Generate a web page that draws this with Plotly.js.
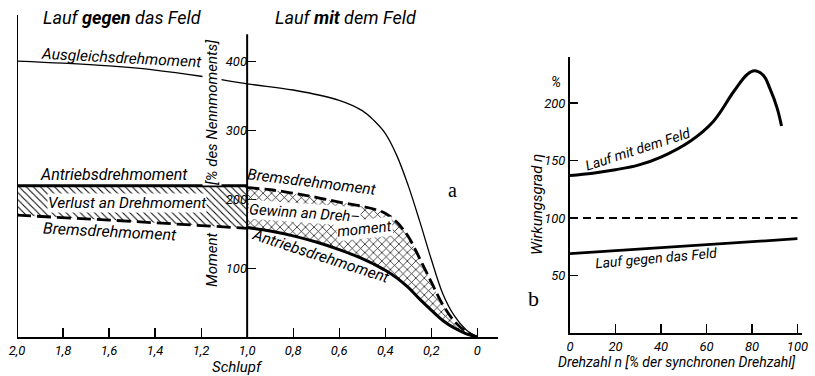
<!DOCTYPE html>
<html>
<head>
<meta charset="utf-8">
<script src="https://cdn.plot.ly/plotly-3.0.1.min.js"></script>
<style>html,body{margin:0;padding:0;background:#fff;}#chart{width:815px;height:376px;}</style>
</head>
<body>
<div id="chart"></div>
<script>
// ---------- Data (panel a: torque vs slip) ----------
const slipTicks = [2.0, 1.8, 1.6, 1.4, 1.2, 1.0, 0.8, 0.6, 0.4, 0.2, 0];
const slipTickText = ["2,0", "1,8", "1,6", "1,4", "1,2", "1,0", "0,8", "0,6", "0,4", "0,2", "0"];
const momentTicks = [100, 200, 300, 400];

const sAusgleich = [2.0, 1.8, 1.6, 1.4, 1.2, 1.0, 0.8, 0.6, 0.5, 0.45, 0.4, 0.35, 0.3, 0.25, 0.2, 0.15, 0.1, 0.05, 0];
const ausgleich  = [401, 398, 394, 388, 379, 368, 359, 344, 329, 315, 296, 264, 220, 168, 113, 63, 31, 11, 0];

const sLeft        = [2.0, 1.8, 1.6, 1.4, 1.2, 1.0];
const antriebLeft  = [220, 220, 220, 220, 220, 220];
const bremsLeft    = [177, 174, 170, 166, 162, 158];

const sRight       = [1.0, 0.9, 0.8, 0.7, 0.6, 0.5, 0.45, 0.4, 0.35, 0.3, 0.25, 0.2, 0.15, 0.1, 0.05, 0];
const antriebRight = [159, 154, 147, 138, 127, 114, 106, 97, 86, 72, 55, 39, 24, 13, 5, 0];
const bremsRight   = [217, 214, 209, 203, 196, 190, 186, 180, 167, 146, 114, 80, 47, 23, 8, 0];

// ---------- Data (panel b: efficiency vs speed) ----------
const speedTicks = [0, 20, 40, 60, 80, 100];
const effTicks = [50, 100, 150, 200];
const nMit   = [0, 10, 20, 30, 40, 53, 63, 72, 78, 81, 85, 88, 91, 93];
const effMit = [137, 139, 142, 146, 153, 167, 184, 210, 225, 228, 224, 212, 196, 180];
const nGegen   = [0, 100];
const effGegen = [69, 82];
const nRef   = [0, 100];
const effRef = [100, 100];

// ---------- Helpers ----------
const W = 815, H = 376;
const px = x => x / W;
const py = y => 1 - y / H;
const F = 'Roboto, "Liberation Sans", sans-serif';
const tf = {family: F, size: 13, color: '#000', style: 'italic'};

const traces = [
  {x: sAusgleich, y: ausgleich, xaxis: 'x', yaxis: 'y', mode: 'lines', line: {color: '#000', width: 1.3, shape: 'spline', smoothing: 1}, hoverinfo: 'skip'},
  {x: sLeft, y: bremsLeft, xaxis: 'x', yaxis: 'y', mode: 'lines', line: {color: '#000', width: 2.8, dash: '14px,6px'}, hoverinfo: 'skip'},
  {x: sLeft, y: antriebLeft, xaxis: 'x', yaxis: 'y', mode: 'lines', line: {color: '#000', width: 3},
   fill: 'tonexty', fillcolor: 'rgba(255,255,255,0)',
   fillpattern: {shape: '\\', size: 5, solidity: 0.2, fgcolor: '#000', bgcolor: 'rgba(255,255,255,0)'}, hoverinfo: 'skip'},
  {x: sRight, y: antriebRight, xaxis: 'x', yaxis: 'y', mode: 'lines', line: {color: '#000', width: 3, shape: 'spline', smoothing: 1}, hoverinfo: 'skip'},
  {x: sRight, y: bremsRight, xaxis: 'x', yaxis: 'y', mode: 'lines', line: {color: '#000', width: 2.8, dash: '12px,5px', shape: 'spline', smoothing: 1},
   fill: 'tonexty', fillcolor: 'rgba(255,255,255,0)',
   fillpattern: {shape: 'x', size: 6, solidity: 0.22, fgcolor: '#000', bgcolor: 'rgba(255,255,255,0)'}, hoverinfo: 'skip'},
  {x: nRef, y: effRef, xaxis: 'x2', yaxis: 'y2', mode: 'lines', line: {color: '#000', width: 1.8, dash: '8px,5px'}, hoverinfo: 'skip'},
  {x: nGegen, y: effGegen, xaxis: 'x2', yaxis: 'y2', mode: 'lines', line: {color: '#000', width: 2.8}, hoverinfo: 'skip'},
  {x: nMit, y: effMit, xaxis: 'x2', yaxis: 'y2', mode: 'lines', line: {color: '#000', width: 3, shape: 'spline', smoothing: 1.1}, hoverinfo: 'skip'}
];

function ann(text, x, y, size, opts) {
  return Object.assign({text: text, x: px(x), y: py(y), xref: 'paper', yref: 'paper', showarrow: false,
    xanchor: 'center', yanchor: 'middle', font: {family: F, size: size, color: '#000', style: 'italic'}}, opts || {});
}

const annotations = [
  ann('Lauf <b>gegen</b> das Feld', 122, 17, 18),
  ann('Lauf <b>mit</b> dem Feld', 346, 17, 18),
  ann('Ausgleichsdrehmoment', 121, 58, 15.5, {textangle: 3}),
  ann('Antriebsdrehmoment', 114, 174, 16),
  ann('Verlust an Drehmoment', 127, 203, 15.5, {bgcolor: '#fff', borderpad: 0}),
  ann('Bremsdrehmoment', 110, 231, 16, {textangle: 3}),
  ann('Bremsdrehmoment', 311, 182, 15.5, {textangle: 7}),
  ann('Gewinn an Dreh–', 304, 213, 15, {textangle: 4, bgcolor: '#fff', borderpad: 0}),
  ann('moment', 364, 229, 15, {textangle: -6, bgcolor: '#fff', borderpad: 0}),
  ann('Antriebsdrehmoment', 320, 256, 15.5, {textangle: 18}),
  ann('[% des Nennmoments]', 212, 113, 15, {textangle: -90, bgcolor: '#fff', borderpad: 0}),
  ann('Moment', 212, 260, 15, {textangle: -90}),
  ann('Schlupf', 238, 367, 15),
  ann('a', 452, 190, 20, {font: {family: '"Liberation Serif", "DejaVu Serif", serif', size: 20, color: '#000'}}),
  ann('b', 533, 298, 22, {font: {family: '"Liberation Serif", "DejaVu Serif", serif', size: 22, color: '#000'}}),
  ann('%', 556, 82, 14),
  ann('Wirkungsgrad <i>η</i>', 537, 205, 15, {textangle: -90}),
  ann('Lauf mit dem Feld', 638, 149, 14, {textangle: -18}),
  ann('Lauf gegen das Feld', 656, 258, 14, {textangle: -5}),
  ann('Drehzahl <i>n</i> [% der synchronen Drehzahl]', 677, 362, 14)
];

const shapes = [
  {type: 'line', xref: 'x', yref: 'y', x0: 2.0, x1: 2.0, y0: 0, y1: 468, line: {color: '#000', width: 2}},
  {type: 'line', xref: 'x', yref: 'y', x0: 1.0, x1: 1.0, y0: 0, y1: 440, line: {color: '#000', width: 2}}
];

const layout = {
  width: W, height: H,
  margin: {l: 0, r: 0, t: 0, b: 0},
  paper_bgcolor: '#fff', plot_bgcolor: 'rgba(0,0,0,0)',
  showlegend: false,
  xaxis: {domain: [px(17), px(498)], range: [2.0, -0.09], anchor: 'y',
    showline: true, linecolor: '#000', linewidth: 2, ticks: 'inside', ticklen: 9, tickwidth: 1.2, tickcolor: '#000',
    tickvals: slipTicks, ticktext: slipTickText, tickfont: tf, showgrid: false, zeroline: false},
  yaxis: {domain: [py(337), py(15)], range: [0, 468], anchor: 'free', position: px(247),
    showline: false, ticks: 'inside', ticklen: 8, tickwidth: 1.2, tickcolor: '#000',
    tickvals: momentTicks, tickfont: tf, showgrid: false, zeroline: false},
  xaxis2: {domain: [px(570), px(802)], range: [0, 102], anchor: 'y2',
    showline: true, linecolor: '#000', linewidth: 2, ticks: 'inside', ticklen: 9, tickwidth: 1.2, tickcolor: '#000',
    tickvals: speedTicks, tickfont: tf, showgrid: false, zeroline: false},
  yaxis2: {domain: [py(333), py(57)], range: [0, 240], anchor: 'x2',
    showline: true, linecolor: '#000', linewidth: 2, ticks: 'inside', ticklen: 8, tickwidth: 1.2, tickcolor: '#000',
    tickvals: effTicks, tickfont: tf, showgrid: false, zeroline: false},
  annotations: annotations,
  shapes: shapes
};

Plotly.newPlot('chart', traces, layout, {staticPlot: true, displayModeBar: false});
</script>
</body>
</html>
